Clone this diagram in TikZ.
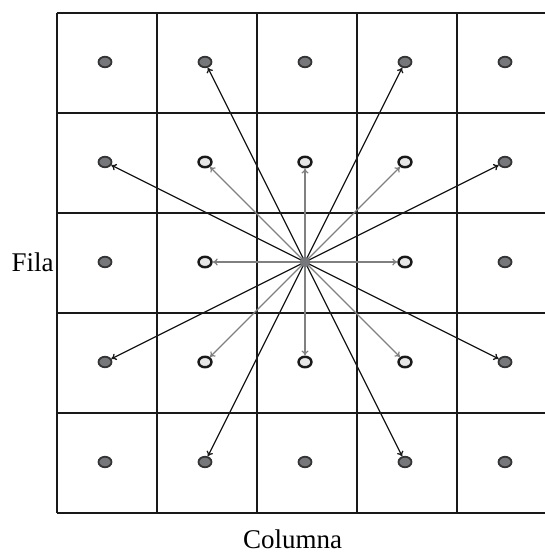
\documentclass[tikz,border=0pt]{standalone}
\usepackage{fontspec}
\setmainfont{Liberation Serif}
\usetikzlibrary{arrows.meta,shapes.geometric}
\definecolor{ringdark}{HTML}{333333}
\definecolor{dotfill}{HTML}{76777B}
\definecolor{lightfill}{HTML}{E6E6E6}
\definecolor{arrgray}{HTML}{808080}
\tikzset{
  gridline/.style={line width=1.9pt, draw=black!90},
  farDot/.style={ellipse, draw=ringdark, line width=1.8pt, fill=dotfill, minimum width=13pt, minimum height=10.5pt, inner sep=0pt},
  nearDot/.style={ellipse, draw=black!90, line width=2.4pt, fill=lightfill, minimum width=13pt, minimum height=10.5pt, inner sep=0pt},
  centerDot/.style={circle, fill=dotfill, minimum size=11pt, inner sep=0pt},
  nearArrow/.style={draw=arrgray, line width=1.2pt, -{To[length=5pt,width=7pt]}},
  farArrow/.style={draw=black!90, line width=1.3pt, -{To[length=5pt,width=7pt]}},
  lbl/.style={font=\fontsize{27}{30}\selectfont, inner sep=0pt}
}
\begin{document}
\begin{tikzpicture}[x=1pt,y=-1pt]
\useasboundingbox (0,0) rectangle (544,553);
% grid
\foreach \i in {0,...,5} {
  \draw[gridline] (56.7+100*\i,12.7) -- (56.7+100*\i,512.7);
  \draw[gridline] (56.7,12.7+100*\i) -- (556.7,12.7+100*\i);
}
% dots
\foreach \c in {1,...,5} {
  \foreach \r in {1,...,5} {
    \pgfmathtruncatemacro{\dc}{abs(\c-3)}
    \pgfmathtruncatemacro{\dr}{abs(\r-3)}
    \pgfmathtruncatemacro{\mx}{max(\dc,\dr)}
    \ifnum\mx=1
      \node[nearDot] (d\r\c) at (5+100*\c,-38+100*\r) {};
    \else
      \ifnum\mx=0
        \node[centerDot] (d\r\c) at (5+100*\c,-38+100*\r) {};
      \else
        \node[farDot] (d\r\c) at (5+100*\c,-38+100*\r) {};
      \fi
    \fi
  }
}
% arrows to neighbours
\foreach \t in {d22,d23,d24,d32,d34,d42,d43,d44}
  \draw[nearArrow] (d33.center) -- (\t);
% arrows to knight cells
\foreach \t in {d12,d14,d21,d25,d41,d45,d52,d54}
  \draw[farArrow] (d33.center) -- (\t);
\node[centerDot] at (d33) {};
% labels
\node[lbl, anchor=base west] (fila) at (11.5,271.7) {Fila};
\node[lbl, anchor=base] (col) at (292.5,548) {Columna};
\end{tikzpicture}
\end{document}
